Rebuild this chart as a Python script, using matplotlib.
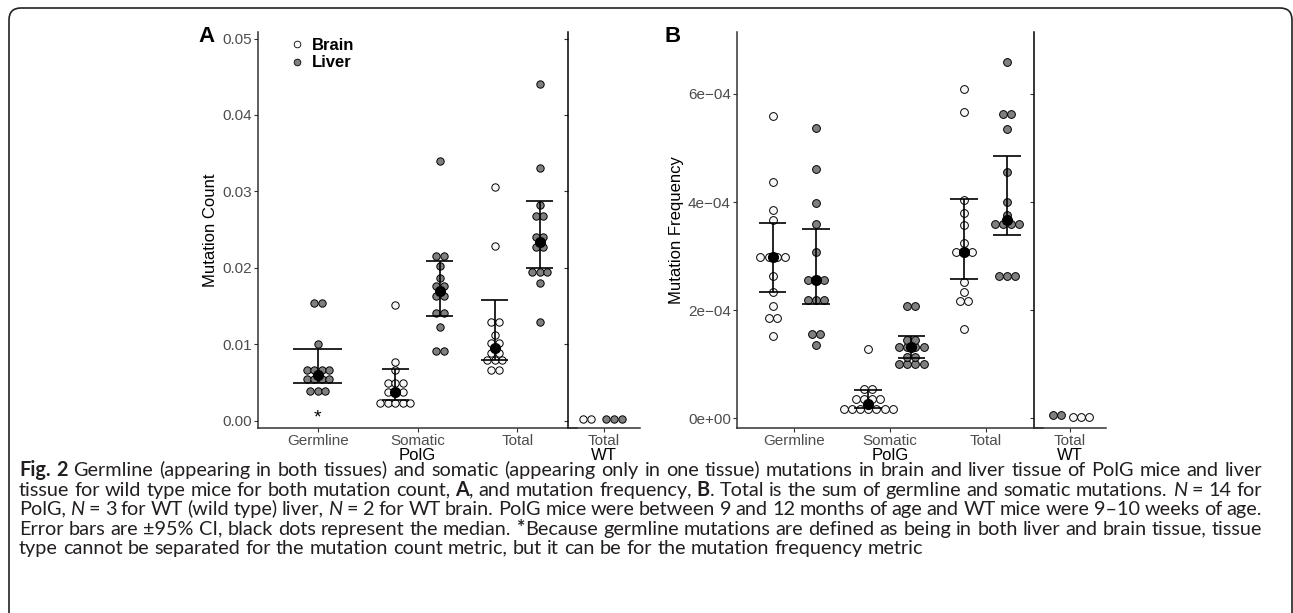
import matplotlib.pyplot as plt
import numpy as np
from matplotlib.patches import FancyBboxPatch
from matplotlib.font_manager import FontProperties

# ---- data ----
categories = ['Germline', 'Somatic', 'Total']

# A: mutation count
count_germ = [0.0154, 0.0154, 0.0101] + [0.0066] * 4 + [0.0055] * 4 + [0.0039] * 3
count_som_brain = [0.0152, 0.0077, 0.0067] + [0.0050] * 3 + [0.0038] * 3 + [0.0023] * 5
count_som_liver = [0.0340, 0.0216, 0.0216, 0.0203, 0.0187, 0.0177, 0.0177,
                   0.0163, 0.0163, 0.0141, 0.0141, 0.0123, 0.0092, 0.0092]
count_tot_brain = [0.0306, 0.0229, 0.0129, 0.0129, 0.0113, 0.0102, 0.0102,
                   0.0089, 0.0089, 0.0080, 0.0080, 0.0080, 0.0066, 0.0066]
count_tot_liver = [0.0440, 0.0331, 0.0282, 0.0268, 0.0268, 0.0240, 0.0240,
                   0.0228, 0.0228, 0.0195, 0.0195, 0.0195, 0.0181, 0.0130]
count_wt_brain = [0.0002, 0.0002]
count_wt_liver = [0.0002, 0.0002, 0.0002]
# 95% CI (lo, hi) as drawn
count_ci_germ = (0.0050, 0.0094)
count_ci_som_brain = (0.0028, 0.0068)
count_ci_som_liver = (0.0137, 0.0209)
count_ci_tot_brain = (0.0080, 0.0158)
count_ci_tot_liver = (0.0200, 0.0288)

# B: mutation frequency (x 1e-4)
freq_germ_brain = [5.60, 4.38, 3.85, 3.67, 2.98, 2.98, 2.98, 2.98, 2.64, 2.34, 2.08, 1.85, 1.85, 1.52]
freq_germ_liver = [5.38, 4.62, 3.98, 3.59, 3.08, 2.56, 2.56, 2.56, 2.19, 2.19, 2.19, 1.56, 1.56, 1.36]
freq_som_brain = [1.28, 0.54, 0.54, 0.35, 0.35, 0.35, 0.35] + [0.17] * 7
freq_som_liver = [2.07, 2.07, 1.45, 1.45, 1.31, 1.31, 1.31, 1.31, 1.14, 1.14, 1.00, 1.00, 1.00, 1.00]
freq_tot_brain = [6.10, 5.66, 4.04, 3.79, 3.58, 3.24, 3.07, 3.07, 3.07, 2.52, 2.33, 2.17, 2.17, 1.66]
freq_tot_liver = [6.60, 5.63, 5.63, 5.35, 4.56, 4.01, 3.76, 3.59, 3.59, 3.59, 3.59, 2.63, 2.63, 2.63]
freq_wt_liver = [0.06, 0.06]
freq_wt_brain = [0.03, 0.03, 0.03]
freq_ci_germ_brain = (2.34, 3.62)
freq_ci_germ_liver = (2.11, 3.50)
freq_ci_som_brain = (0.19, 0.52)
freq_ci_som_liver = (1.11, 1.53)
freq_ci_tot_brain = (2.58, 4.06)
freq_ci_tot_liver = (3.40, 4.85)

count_ticks = [0.00, 0.01, 0.02, 0.03, 0.04, 0.05]
count_ticklabels = ['0.00', '0.01', '0.02', '0.03', '0.04', '0.05']
freq_ticks = [0, 2, 4, 6]
freq_ticklabels = ['0e+00', '2e\u221204', '4e\u221204', '6e\u221204']

caption = [
    [('Fig. 2', 'b'), (' Germline (appearing in both tissues) and somatic (appearing only in one tissue) '
                       'mutations in brain and liver tissue of PolG mice and liver', 'n')],
    [('tissue for wild type mice for both mutation count, ', 'n'), ('A', 'b'),
     (', and mutation frequency, ', 'n'), ('B', 'b'),
     ('. Total is the sum of germline and somatic mutations. ', 'n'), ('N', 'i'), (' = 14 for', 'n')],
    [('PolG, ', 'n'), ('N', 'i'), (' = 3 for WT (wild type) liver, ', 'n'), ('N', 'i'),
     (' = 2 for WT brain. PolG mice were between 9 and 12 months of age and WT mice were 9\u201310 weeks of age.', 'n')],
    [('Error bars are \u00b195% CI, black dots represent the median. ', 'n'), ('*', 'b'),
     ('Because germline mutations are defined as being in both liver and brain tissue, tissue', 'n')],
    [('type cannot be separated for the mutation count metric, but it can be for the mutation frequency metric', 'n')],
]

BRAIN = '#f7f7f7'
LIVER = '#7f7f7f'
W, H = 1293, 613

plt.rcParams['font.family'] = ['Liberation Sans', 'DejaVu Sans']

fig = plt.figure(figsize=(W / 100, H / 100), dpi=100)


def rect(l, r, t, b):
    return [l / W, 1 - b / H, (r - l) / W, (b - t) / H]


def dots(ax, vals, cx, step, face, ms):
    v, n = np.unique(vals, return_counts=True)
    for vi, ni in zip(v, n):
        xs = cx + (np.arange(ni) - (ni - 1) / 2) * step
        ax.plot(xs, [vi] * ni, 'o', ms=ms, mfc=face, mec='black', mew=0.7, zorder=3,
                clip_on=False)


def summary(ax, vals, cx, ci, half):
    ax.vlines(cx, ci[0], ci[1], color='black', lw=1.2, zorder=4)
    ax.hlines(ci, cx - half, cx + half, color='black', lw=1.2, zorder=4)
    ax.plot(cx, np.median(vals), 'o', ms=7, color='black', zorder=5)


def style(ax, ylim, ticks, ticklabels, xticklabels, xlabel, left_color='#333333', labels=True):
    ax.set_facecolor('none')
    ax.set_ylim(*ylim)
    ax.set_yticks(ticks)
    ax.set_yticklabels(ticklabels if labels else [])
    ax.set_xticks(range(1, len(xticklabels) + 1))
    ax.set_xticklabels(xticklabels)
    ax.set_xlim(0.4, len(xticklabels) + 0.6)
    ax.set_xlabel(xlabel, fontsize=12, labelpad=0.5)
    for s in ['top', 'right']:
        ax.spines[s].set_visible(False)
    ax.spines['left'].set_color(left_color)
    ax.spines['bottom'].set_color('#333333')
    ax.spines['left'].set_linewidth(1.1)
    ax.spines['bottom'].set_linewidth(1.1)
    ax.tick_params(length=2.75, width=0.8, color='#333333', labelcolor='#4d4d4d',
                   labelsize=11, pad=1.5)


# ---------------- panel A ----------------
ylim_a = (-0.00088, 0.05085)
axA = fig.add_axes(rect(258, 577, 32, 427.7))
step_a = 7.5 / (319 / 3.2)
ms_a = 5.3
dots(axA, count_germ, 1, step_a, LIVER, ms_a)
summary(axA, count_germ, 1, count_ci_germ, 0.245)
for cx, vals, face, ci in [(2 - 0.225, count_som_brain, BRAIN, count_ci_som_brain),
                           (2 + 0.225, count_som_liver, LIVER, count_ci_som_liver),
                           (3 - 0.225, count_tot_brain, BRAIN, count_ci_tot_brain),
                           (3 + 0.225, count_tot_liver, LIVER, count_ci_tot_liver)]:
    dots(axA, vals, cx, step_a, face, ms_a)
    summary(axA, vals, cx, ci, 0.135)
axA.text(1, 0.0004, '*', ha='center', va='center', fontsize=14)
style(axA, ylim_a, count_ticks, count_ticklabels, categories, 'PolG')
axA.set_ylabel('Mutation Count', fontsize=12, labelpad=3)
hb = plt.Line2D([], [], ls='', marker='o', ms=4.8, mfc='white', mec='black', mew=0.6)
hl = plt.Line2D([], [], ls='', marker='o', ms=4.8, mfc=LIVER, mec='black', mew=0.6)
axA.legend([hb, hl], ['Brain', 'Liver'], loc='upper left', bbox_to_anchor=(0.095, 0.985),
           frameon=False, prop={'weight': 'bold', 'size': 12}, handlelength=1.0,
           handletextpad=0.4, labelspacing=0.15, borderaxespad=0, borderpad=0)

axAw = fig.add_axes(rect(568, 640, 32, 427.7))
step_w = 8 / 60
dots(axAw, count_wt_brain, 1 - 0.28, step_w, BRAIN, ms_a)
dots(axAw, count_wt_liver, 1 + 0.17, step_w, LIVER, ms_a)
style(axAw, ylim_a, count_ticks, count_ticklabels, ['Total'], 'WT', left_color='black', labels=False)

fig.text(206.7 / W, 1 - 36 / H, 'A', fontsize=16, weight='bold', ha='center', va='center')

# ---------------- panel B ----------------
ylim_b = (-0.174, 7.147)
axB = fig.add_axes(rect(736.7, 1043, 32, 427.7))
step_b = 8.1 / (306.3 / 3.2)
ms_b = 5.6
for i, (vb, vl, cb, cl) in enumerate([(freq_germ_brain, freq_germ_liver, freq_ci_germ_brain, freq_ci_germ_liver),
                                       (freq_som_brain, freq_som_liver, freq_ci_som_brain, freq_ci_som_liver),
                                       (freq_tot_brain, freq_tot_liver, freq_ci_tot_brain, freq_ci_tot_liver)]):
    cx = i + 1
    dots(axB, vb, cx - 0.225, step_b, BRAIN, ms_b)
    summary(axB, vb, cx - 0.225, cb, 0.145)
    dots(axB, vl, cx + 0.225, step_b, LIVER, ms_b)
    summary(axB, vl, cx + 0.225, cl, 0.145)
style(axB, ylim_b, freq_ticks, freq_ticklabels, categories, 'PolG')
axB.set_ylabel('Mutation Frequency', fontsize=12, labelpad=3)

axBw = fig.add_axes(rect(1034, 1106, 32, 427.7))
dots(axBw, freq_wt_liver, 1 - 0.22, step_w, LIVER, ms_b)
dots(axBw, freq_wt_brain, 1 + 0.18, step_w, BRAIN, ms_b)
style(axBw, ylim_b, freq_ticks, freq_ticklabels, ['Total'], 'WT', left_color='black', labels=False)

fig.text(673 / W, 1 - 36 / H, 'B', fontsize=16, weight='bold', ha='center', va='center')

# ---------------- border + caption ----------------
fig.patches.append(FancyBboxPatch((9, -30), 1283, 635, boxstyle='round,pad=0,rounding_size=12',
                                  transform=None, fill=False, ec='#222222', lw=1.2))

renderer = fig.canvas.get_renderer()
cap_font = ['Lato', 'DejaVu Sans']
props = {'n': {}, 'b': {'weight': 'bold'}, 'i': {'style': 'italic'}}
left, right = 19, 1262
baselines = [476, 496, 515, 535, 554]


def width(s, st, size):
    t = fig.text(0, 0, s, family=cap_font, size=size, **props[st])
    w = t.get_window_extent(renderer).width
    t.remove()
    return w


def nudge(s, st, size):
    # Agg rounds the bitmap of each word on its own; shift so every baseline lands on the same row
    fp = FontProperties(family=cap_font, size=size, **props[st])
    _, h, d = renderer.get_text_width_height_descent(s, fp, ismath=False)
    return np.floor(h) - np.floor(h - d) - d


# size the caption so the last (unjustified) line is as long as in the figure
cap_size = 10 * 908 / width(caption[-1][0][0], 'n', 10)
space = width('a a', 'n', cap_size) - width('aa', 'n', cap_size)
for k, runs in enumerate(caption):
    # split runs into words, remembering whether a space comes before each one
    tokens = []
    pending = False
    for text, st in runs:
        for j, p in enumerate(text.split(' ')):
            if j > 0:
                pending = True
            if p == '':
                continue
            tokens.append([p, st, pending and len(tokens) > 0])
            pending = False
    widths = [width(p, st, cap_size) for p, st, _ in tokens]
    ngaps = sum(1 for t in tokens if t[2])
    gap = (right - left - sum(widths)) / ngaps if k < len(caption) - 1 else space
    x = left
    for (p, st, sp), w in zip(tokens, widths):
        if sp:
            x += gap
        yb = baselines[k] + nudge(p, st, cap_size)
        fig.text(x / W, 1 - yb / H, p, family=cap_font, size=cap_size, va='baseline',
                 color='#231f20', **props[st])
        x += w

fig.savefig('out.png', dpi=100)
